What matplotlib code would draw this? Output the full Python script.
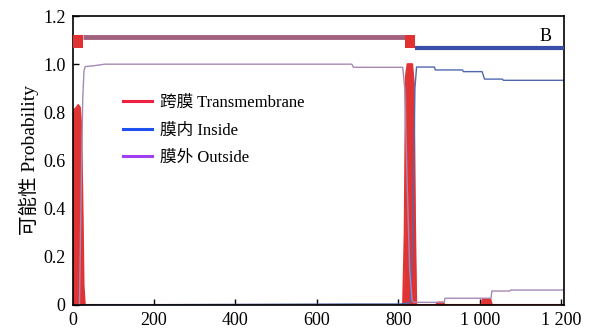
import numpy as np
import matplotlib
matplotlib.use("Agg")
import matplotlib.pyplot as plt

plt.rcParams['font.family'] = ['Liberation Serif', 'Noto Sans CJK SC']
plt.rcParams['axes.unicode_minus'] = False

# ---- data ----
seq_len = 1207

# transmembrane probability (red, drawn filled)
tm_x = [0, 4, 10, 14, 18, 21, 24, 27, 30,
        812, 816, 819, 823, 834, 838, 841, 844,
        893, 897, 910, 914,
        1004, 1008, 1026, 1030, seq_len]
tm_y = [0.79, 0.81, 0.82, 0.83, 0.82, 0.75, 0.45, 0.08, 0.0,
        0.0, 0.30, 0.95, 1.0, 1.0, 0.92, 0.35, 0.0,
        0.0, 0.01, 0.01, 0.0,
        0.0, 0.024, 0.024, 0.0, 0.0]

# inside probability (blue)
in_x = [0, 700, 805, 830, 836, 841, 845, 889, 891, 958, 960, 1006, 1012, 1056, 1058, seq_len]
in_y = [0.0, 0.004, 0.004, 0.01, 0.3, 0.9, 0.988, 0.988, 0.976, 0.976, 0.969, 0.969, 0.938, 0.938, 0.933, 0.933]

# outside probability (purple)
out_x = [0, 17, 21, 25, 28, 31, 50, 80, 686, 690, 811, 816, 822, 828, 834, 838,
         913, 915, 1028, 1030, 1074, 1076, seq_len]
out_y = [0.0, 0.0, 0.45, 0.85, 0.97, 0.99, 0.993, 1.0, 1.0, 0.987, 0.987, 0.9, 0.5, 0.15, 0.02, 0.011,
         0.011, 0.028, 0.028, 0.058, 0.058, 0.062, 0.062]

# predicted topology bar at the top
tm_segments = [(0, 26), (817, 842)]
outside_seg = (26, 817)
inside_seg = (842, seq_len)

labels = ["跨膜 Transmembrane", "膜内 Inside", "膜外 Outside"]
xticks = [0, 200, 400, 600, 800, 1000, 1200]
xticklabels = ["0", "200", "400", "600", "800", "1 000", "1 200"]
yticks = [0, 0.2, 0.4, 0.6, 0.8, 1.0, 1.2]
yticklabels = ["0", "0.2", "0.4", "0.6", "0.8", "1.0", "1.2"]

fig = plt.figure(figsize=(5.96, 3.30), dpi=100)
ax = fig.add_axes([0.1217, 0.0758, 0.8245, 0.8757])

# probabilities (kept under the spines so the zero level hides in the axis)
ax.fill_between(tm_x, 0, tm_y, color="#e03434", lw=0, zorder=2)
ax.plot(tm_x, tm_y, color="#e03434", lw=1.5, zorder=2)
ax.plot(in_x, in_y, color="#5068b0", lw=1.0, zorder=2.2)
ax.plot(out_x, out_y, color="#a888b4", lw=1.0, zorder=2.3)

# topology bar
ax.plot(outside_seg, [1.114, 1.114], color="#a0607e", lw=3.5, solid_capstyle="butt", zorder=4)
ax.plot(inside_seg, [1.068, 1.068], color="#3a4ea8", lw=3.0, solid_capstyle="butt", zorder=4)
for a, b in tm_segments:
    ax.fill_between([a, b], 1.066, 1.12, color="#e03030", lw=0, zorder=5)

# legend handles
h1, = ax.plot([], [], color="#f02040", lw=2.2)
h2, = ax.plot([], [], color="#2050f0", lw=2.2)
h3, = ax.plot([], [], color="#a040f0", lw=2.2)
ax.legend([h1, h2, h3], labels, loc="upper left", bbox_to_anchor=(0.09, 0.75),
          frameon=False, fontsize=12, handlelength=1.7, handletextpad=0.5,
          labelspacing=0.7, borderaxespad=0)

ax.text(0.975, 0.93, "B", transform=ax.transAxes, ha="right", va="center", fontsize=13)

ax.set_xlim(0, seq_len)
ax.set_ylim(0, 1.2)
ax.set_xticks(xticks)
ax.set_xticklabels(xticklabels)
ax.set_yticks(yticks)
ax.set_yticklabels(yticklabels)
ax.tick_params(direction="in", length=4, width=1, labelsize=13)
ax.tick_params(axis="x", pad=5)
ax.tick_params(axis="y", pad=5)
for s in ax.spines.values():
    s.set_linewidth(1.2)
ax.set_ylabel("可能性 Probability", fontsize=14, labelpad=3)

fig.savefig("out.png", dpi=100)
